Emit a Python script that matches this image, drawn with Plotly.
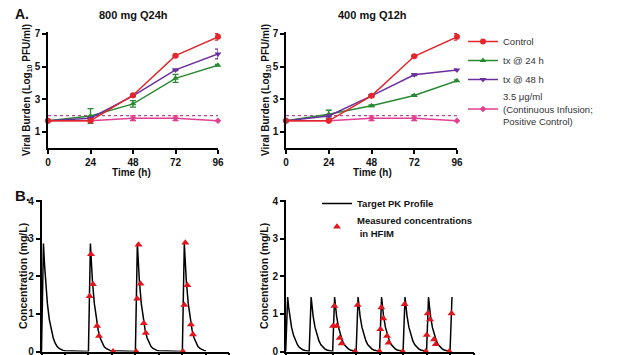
import plotly.graph_objects as go

# ---------------- data ----------------
time_h = [0, 24, 48, 72, 96]

# Panel A, 800 mg Q24h
q24_control = [1.68, 1.68, 3.25, 5.67, 6.82]
q24_control_err = [0.0, 0.0, 0.05, 0.05, 0.2]
q24_tx24 = [1.68, 1.98, 2.72, 4.28, 5.08]
q24_tx24_err = [0.0, 0.45, 0.2, 0.25, 0.05]
q24_tx48 = [1.68, 1.84, 3.21, 4.80, 5.77]
q24_tx48_err = [0.0, 0.05, 0.05, 0.05, 0.3]
q24_pos = [1.68, 1.68, 1.84, 1.84, 1.68]
q24_pos_err = [0.0, 0.0, 0.15, 0.15, 0.0]

# Panel A, 400 mg Q12h
q12_control = [1.68, 1.68, 3.21, 5.63, 6.82]
q12_control_err = [0.0, 0.0, 0.05, 0.05, 0.2]
q12_tx24 = [1.68, 2.08, 2.60, 3.23, 4.13]
q12_tx24_err = [0.0, 0.25, 0.05, 0.05, 0.05]
q12_tx48 = [1.68, 1.98, 3.21, 4.50, 4.80]
q12_tx48_err = [0.0, 0.05, 0.05, 0.05, 0.05]
q12_pos = [1.68, 1.68, 1.84, 1.84, 1.68]
q12_pos_err = [0.0, 0.0, 0.15, 0.15, 0.0]

lod_value = 2.0

# Panel B, target PK profile (one dosing cycle)
pk_offset_h = [0, 1, 1.5, 2, 3, 4, 5, 6, 7, 8, 9, 10, 11, 12]
pk_conc_800 = [0, 2.87, 2.35, 1.90, 1.28, 0.85, 0.56, 0.36, 0.22, 0.13, 0.08, 0.05, 0.03, 0.02]
pk_conc_400 = [0, 1.45, 1.18, 0.95, 0.64, 0.43, 0.28, 0.18, 0.11, 0.07, 0.04, 0.025, 0.015, 0.01]
doses_q24 = [0, 24, 48, 72]
doses_q12 = [0, 12, 24, 36, 48, 60, 72, 84]
pk_end_h = 85

# Panel B, measured concentrations in HFIM
meas800_t = [24.6, 25.3, 26.3, 28.4, 29.4, 36.6,
             48.4, 48.9, 49.6, 50.6, 52.3, 53.3,
             72.3, 73.0, 73.5, 74.6, 76.4, 77.4]
meas800_c = [1.47, 2.59, 1.79, 0.68, 0.41, 0.0,
             0.0, 1.40, 2.84, 1.80, 0.75, 0.49,
             0.0, 1.24, 2.89, 1.76, 0.72, 0.45]
meas400_t = [24.2, 24.9, 26.1, 27.6, 28.6, 35.4, 36.8,
             47.9, 48.4, 48.9, 49.9, 51.8, 52.6, 59.8, 60.8,
             71.6, 72.1, 72.6, 73.8, 75.8, 76.7, 83.6, 84.8]
meas400_c = [0.68, 1.21, 0.68, 0.36, 0.21, 0.0, 1.24,
             0.0, 0.59, 1.17, 0.88, 0.41, 0.23, 0.0, 1.26,
             0.0, 0.44, 1.01, 0.85, 0.32, 0.19, 0.0, 1.01]

top_xticks = [0, 24, 48, 72, 96]
top_yticks = [1, 3, 5, 7]
bot_xticks = [0, 12, 24, 36, 48, 60, 72, 84, 96]
bot_yticks = [0, 1, 2, 3, 4]

# ---------------- styling ----------------
W, H = 640, 355
OFF = 8  # the page body has an 8 px default margin
FONT = "Liberation Sans, Arial, sans-serif"
RED = "#e3262b"
GREEN = "#2a8a34"
PURPLE = "#6a2f9c"
MAGENTA = "#e0408f"
LODC = "#b04a9a"


def px(x):
    return (x - OFF) / W


def py(y):
    return 1 - (y - OFF) / H


def build_profile(doses, conc):
    xs, ys = [], []
    for d in doses:
        for o, c in zip(pk_offset_h, conc):
            t = d + o
            if t <= pk_end_h:
                xs.append(t)
                ys.append(c)
    return xs, ys


fig = go.Figure()

series = [
    ("Control", RED, "circle", 6),
    ("tx @ 24 h", GREEN, "triangle-up", 6),
    ("tx @ 48 h", PURPLE, "triangle-down", 6),
    ("3.5 \u03bcg/ml<br>(Continuous Infusion;<br>Positive Control)", MAGENTA, "diamond", 5),
]
panelA = [
    ("x", "y", [q24_control, q24_tx24, q24_tx48, q24_pos],
     [q24_control_err, q24_tx24_err, q24_tx48_err, q24_pos_err], True),
    ("x2", "y2", [q12_control, q12_tx24, q12_tx48, q12_pos],
     [q12_control_err, q12_tx24_err, q12_tx48_err, q12_pos_err], False),
]
for xa, ya, vals, errs, show in panelA:
    fig.add_trace(go.Scatter(x=[time_h[0], time_h[-1]], y=[lod_value, lod_value],
                             mode="lines", line=dict(color=LODC, width=1.2, dash="dot"),
                             xaxis=xa, yaxis=ya, showlegend=False, hoverinfo="skip"))
    for i in [3, 1, 2, 0]:
        name, col, sym, sz = series[i]
        fig.add_trace(go.Scatter(
            x=time_h, y=vals[i], name=name, mode="lines+markers",
            line=dict(color=col, width=1.5),
            marker=dict(color=col, symbol=sym, size=sz),
            error_y=dict(type="data", array=errs[i], color=col, thickness=1.3, width=3),
            xaxis=xa, yaxis=ya, showlegend=show, legend="legend", legendrank=i,
            cliponaxis=False))

# Panel B
for xa, ya, doses, conc, mt, mc, show in [
    ("x3", "y3", doses_q24, pk_conc_800, meas800_t, meas800_c, True),
    ("x4", "y4", doses_q12, pk_conc_400, meas400_t, meas400_c, False),
]:
    xs, ys = build_profile(doses, conc)
    fig.add_trace(go.Scatter(x=xs, y=ys, mode="lines", name="Target PK Profile",
                             line=dict(color="black", width=1.5),
                             xaxis=xa, yaxis=ya, showlegend=show, legend="legend2",
                             legendrank=1, cliponaxis=False))
    fig.add_trace(go.Scatter(x=mt, y=mc, mode="markers",
                             name="Measured concentrations<br> in HFIM",
                             marker=dict(color="#e0161c", symbol="triangle-up", size=7),
                             xaxis=xa, yaxis=ya, showlegend=show, legend="legend2",
                             legendrank=2, cliponaxis=False))

axis_common = dict(showline=True, linecolor="black", linewidth=1.5, ticks="outside",
                   ticklen=4, tickwidth=1.5, tickcolor="black", showgrid=False,
                   zeroline=False, automargin=False,
                   tickfont=dict(family=FONT, size=10, color="#111", weight="bold"))

top_y_dom = [py(148.3), py(32.3)]
bot_y_dom = [py(351.5), py(200.0)]

fig.update_layout(
    template="none",
    width=W, height=H, margin=dict(l=0, r=0, t=0, b=0, autoexpand=False),
    paper_bgcolor="white", plot_bgcolor="white",
    font=dict(family=FONT, color="#111"),
    xaxis=dict(domain=[px(48), px(218)], range=[0, 96], tickvals=top_xticks, anchor="y", **axis_common),
    yaxis=dict(domain=top_y_dom, range=[0, 7.1], tickvals=top_yticks, anchor="x", **axis_common),
    xaxis2=dict(domain=[px(286), px(457)], range=[0, 96], tickvals=top_xticks, anchor="y2", **axis_common),
    yaxis2=dict(domain=top_y_dom, range=[0, 7.1], tickvals=top_yticks, anchor="x2", **axis_common),
    xaxis3=dict(domain=[px(41.5), px(229.3)], range=[0, 96], tickvals=bot_xticks,
                showticklabels=False, anchor="y3", **axis_common),
    yaxis3=dict(domain=bot_y_dom, range=[0, 4.03], tickvals=bot_yticks, anchor="x3", **axis_common),
    xaxis4=dict(domain=[px(285.7), px(473.5)], range=[0, 96], tickvals=bot_xticks,
                showticklabels=False, anchor="y4", **axis_common),
    yaxis4=dict(domain=bot_y_dom, range=[0, 4.03], tickvals=bot_yticks, anchor="x4", **axis_common),
    legend=dict(x=px(463), y=py(27), xanchor="left", yanchor="top",
                bgcolor="rgba(0,0,0,0)", font=dict(family=FONT, size=9.5, color="#333"),
                traceorder="normal"),
    legend2=dict(x=px(317), y=py(189), xanchor="left", yanchor="top",
                 bgcolor="rgba(0,0,0,0)",
                 font=dict(family=FONT, size=9.5, color="#111", weight="bold"),
                 traceorder="normal"),
)

ann = [
    ("800 mg Q24h", 133, 15, 11, 0),
    ("400 mg Q12h", 372, 15, 11, 0),
    ("A.", 22, 14, 14, 0),
    ("B.", 22, 195, 15, 0),
    ("Viral Burden (Log<sub>10</sub> PFU/ml)", 27, 90, 10, -90),
    ("Viral Burden (Log<sub>10</sub> PFU/ml)", 266, 90, 10, -90),
    ("Time (h)", 131, 172, 10, 0),
    ("Time (h)", 372, 172, 10, 0),
    ("Concentration (mg/L)", 23, 276, 10.5, -90),
    ("Concentration (mg/L)", 264, 276, 10.5, -90),
]
for text, x, y, size, ang in ann:
    fig.add_annotation(text=text, x=px(x), y=py(y), xref="paper", yref="paper",
                       showarrow=False, textangle=ang, xanchor="center", yanchor="middle",
                       font=dict(family=FONT, size=size, color="#111", weight="bold"))

fig.write_html("out.html")
